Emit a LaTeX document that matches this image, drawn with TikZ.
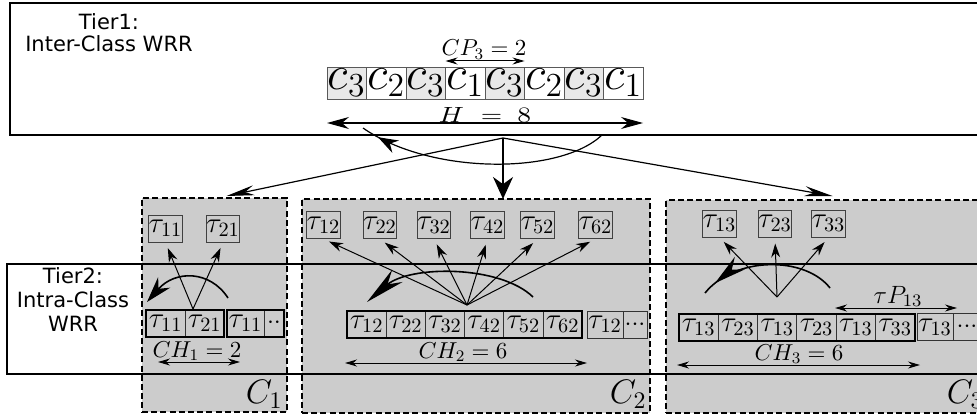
\RequirePackage{fix-cm}
\documentclass[tikz,border=0pt]{standalone}
\usepackage{graphicx}
\usepackage{fontspec}
\newfontfamily\tierfont{DejaVu Sans}
\usetikzlibrary{arrows.meta,positioning,decorations.markings}
\definecolor{classgray}{gray}{0.8}
\definecolor{slotgray}{gray}{0.91}
\newcommand{\slotdots}[1]{{\fontsize{12.5}{13}\selectfont$#1$}}
\begin{document}
\begin{tikzpicture}[x=0.5pt,y=-0.5pt,
  tierlabel/.style={font=\tierfont\fontsize{10.5}{11}\selectfont, align=center, inner sep=0pt},
  tierframe/.style={draw, line width=1.1pt},
  classbox/.style={draw, dash pattern=on 3pt off 1.6pt, line width=0.8pt, fill=classgray,
    anchor=north west, inner sep=0pt, outer sep=0pt},
  task/.style={draw=black!75, line width=0.5pt, minimum width=16.5pt, minimum height=13.5pt,
    inner sep=0pt, font=\fontsize{14.5}{15}\selectfont},
  slot/.style={draw=black!80, line width=0.5pt, minimum width=19.6pt, minimum height=13.5pt,
    inner sep=0pt, outer sep=0pt, font=\fontsize{14.5}{15}\selectfont},
  cslot/.style={draw=black!65, line width=0.4pt, minimum width=19.75pt, minimum height=16pt,
    inner sep=0pt, outer sep=0pt, font=\fontsize{24}{26}\selectfont},
  group/.style={draw, line width=1pt},
  dimlabel/.style={inner sep=0pt, anchor=base, font=\fontsize{11.5}{12}\selectfont},
  classlabel/.style={inner sep=0pt, anchor=base east, font=\fontsize{17}{18}\selectfont},
  dim/.style={{Stealth[length=6pt,width=3.5pt]}-{Stealth[length=6pt,width=3.5pt]}, line width=0.5pt},
  hdim/.style={{Stealth[length=11pt,width=6pt]}-{Stealth[length=11pt,width=6pt]}, line width=0.6pt},
  pick/.style={-{Stealth[length=7pt,width=4.5pt]}, line width=0.5pt, shorten >=3pt},
  feed/.style={-{Stealth[length=14pt,width=5pt]}, line width=0.6pt},
  feedmain/.style={-{Stealth[length=11pt,width=10pt]}, line width=0.9pt},
  turn/.style={line width=0.8pt},
  midhead/.style 2 args={decoration={markings, mark=at position #1 with {\arrow{#2}}},
    postaction={decorate}}
]
\useasboundingbox (0,0) rectangle (977,417);

% ---------- tier 1: inter-class round robin ----------
\draw[tierframe, line width=1.2pt] (10,3) rectangle (995,135);
\node[tierlabel] (tier1) at (109,33) {Tier1:\\Inter-Class WRR};

\foreach \k/\shade [count=\i] in {3/slotgray,2/white,3/slotgray,1/white,3/slotgray,2/white,3/slotgray,1/white}
  \node[cslot, fill=\shade, anchor=west] (h\i) at ({327+39.5*(\i-1)},83) {$c_{\k}$};

\node[dimlabel] (cp) at (484,56) {$CP_3 = 2$};
\draw[dim] ([yshift=3pt]h4.north west) -- ([yshift=3pt]h5.north east);
\node[dimlabel, font=\fontsize{11}{12}\selectfont] (hlab) at (485,122)
  {\scalebox{1.25}[1]{${H}\mkern11mu{=}\mkern10mu{8}$}};
\draw[hdim] ([yshift=-12pt]h1.south west) -- ([yshift=-12pt]h8.south east);

% ---------- class containers ----------
\node[classbox, minimum width=72.5pt, minimum height=107pt] (C1) at (142,198) {};
\node[classbox, minimum width=174pt, minimum height=107pt] (C2) at (302,199) {};
\node[classbox, minimum width=160.5pt, minimum height=106.5pt] (C3) at (666,200) {};

% ---------- tier 2: intra-class round robin ----------
\draw[tierframe] (7,264) rectangle (995,374);
\node[tierlabel, font=\tierfont\fontsize{10.5}{12}\selectfont] (tier2) at (73,300) {Tier2:\\Intra-Class\\WRR};

% ---------- class C1 ----------
\node[task] (a11) at (165.5,228.5) {$\tau_{11}$};
\node[task] (a21) at (223,228.5) {$\tau_{21}$};
\node[slot, anchor=west] (u1) at (146,323) {$\tau_{11}$};
\node[slot, right=0pt of u1] (u2) {$\tau_{21}$};
\node[slot, minimum width=18.5pt, anchor=west] (u3) at (227,323) {$\tau_{11}$};
\node[slot, minimum width=10pt, right=0pt of u3] (u4) {\slotdots{{\cdotp}{\cdotp}}};
\draw[group] (u1.north west) rectangle (u2.south east);
\draw[group] (u3.north west) rectangle (u4.south east);
\coordinate (o1) at (193,309);
\draw[pick] (o1) -- (a11.south);
\draw[pick] (o1) -- (a21.south);
\draw[turn, -{Stealth[length=13pt,width=8pt]}] (228,298) .. controls (210,270) and (175,270) .. (147,302);
\node[dimlabel] (ch1) at (197,357) {$CH_1 = 2$};
\draw[dim] (158,362) -- (240,362);
\node[classlabel] (l1) at (283,403) {$C_1$};

% ---------- class C2 ----------
\coordinate (o2) at (467,305);
\foreach \n/\x in {12/323.5,22/380,32/434,42/487.5,52/537.5,62/595.5} {
  \node[task] (p\n) at (\x,225) {$\tau_{\n}$};
  \draw[pick] (o2) -- (p\n.south);
}
\foreach \n [count=\i] in {12,22,32,42,52,62}
  \node[slot, anchor=west] (v\i) at ({347+39.2*(\i-1)},324.5) {$\tau_{\n}$};
\node[slot, minimum width=18pt, anchor=west] (v7) at (587,324.5) {$\tau_{12}$};
\node[slot, minimum width=12pt, right=0pt of v7] (v8) {\slotdots{{\cdotp}{\cdotp}{\cdotp}}};
\draw[group] (v1.north west) rectangle (v6.south east);
\draw[turn, -{Stealth[length=20pt,width=8pt]}] (533,297) .. controls (500,265) and (410,265) .. (367,302);
\node[dimlabel] (ch2) at (463,358) {$CH_2 = 6$};
\draw[dim] (345,363) -- (587,363);
\node[classlabel] (l2) at (647,403) {$C_2$};

% ---------- class C3 ----------
\coordinate (o3) at (777,297);
\foreach \n/\x in {13/719.5,23/775,33/828.5} {
  \node[task] (q\n) at (\x,223.5) {$\tau_{\n}$};
  \draw[pick] (o3) -- (q\n.south);
}
\foreach \n [count=\i] in {13,23,13,23,13,33}
  \node[slot, minimum width=19.65pt, anchor=west] (w\i) at ({679+39.3*(\i-1)},327) {$\tau_{\n}$};
\node[slot, minimum width=18pt, anchor=west] (w7) at (917,327) {$\tau_{13}$};
\node[slot, minimum width=14pt, right=0pt of w7] (w8) {\slotdots{{\cdotp}{\cdotp}{\cdotp}}};
\draw[group] (w1.north west) rectangle (w6.south east);
\draw[turn, midhead={0.9}{Stealth[length=16pt,width=8pt]}] (830,288) .. controls (805,256) and (735,256) .. (705,293);
\node[dimlabel, font=\fontsize{12.5}{13}\selectfont] (tp) at (898,303) {$\tau P_{13}$};
\draw[dim] (835,308) -- (957,308);
\node[dimlabel] (ch3) at (799,360) {$CH_3 = 6$};
\draw[dim] (677,365) -- (920,365);
\node[classlabel] (l3) at (984,403) {$C_3$};

% ---------- dispatch from tier 1 to the classes ----------
\coordinate (hub) at (503,138);
\draw[feed] (hub) -- ([xshift=6pt,yshift=1pt]C1.north);
\draw[feedmain] (hub) -- ([xshift=13.5pt]C2.north);
\draw[feed] (hub) -- ([xshift=3pt,yshift=2pt]C3.north);
\draw[turn, line width=0.6pt, midhead={0.93}{Stealth[length=10pt,width=7pt]}]
  (602,135) .. controls (560,175) and (430,175) .. (363,128);
\end{tikzpicture}
\end{document}
